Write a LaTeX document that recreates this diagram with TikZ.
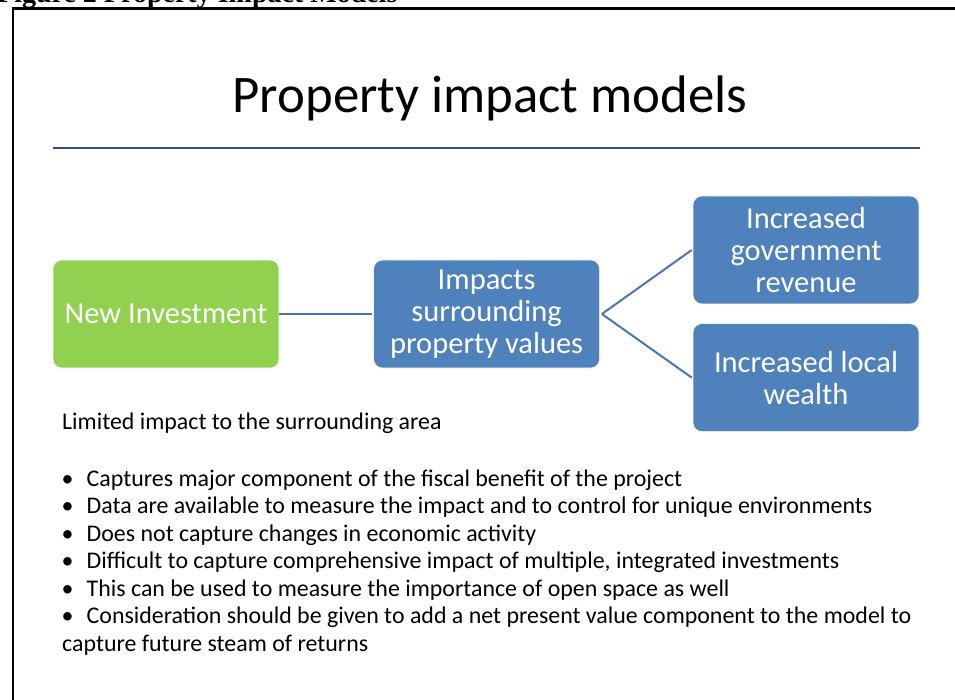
\documentclass[tikz,border=0pt]{standalone}
\usepackage{fontspec}
\setmainfont{Carlito}
\newfontfamily\capfont{Liberation Serif}
\usetikzlibrary{positioning}

\definecolor{boxgreen}{HTML}{92D050}
\definecolor{boxblue}{HTML}{4F81BD}
\definecolor{linkblue}{HTML}{4A76AE}
\definecolor{ruleblue}{HTML}{34507A}

\begin{document}
\begin{tikzpicture} [x=1pt,y=-1pt,
    box/.style={rectangle, rounded corners=9pt, draw=white, line width=0.6pt,
      text=white, align=center, minimum width=226pt, minimum height=108pt,
      inner sep=2pt, font=\fontsize{30.5}{32}\selectfont},
    link/.style={draw=linkblue, line width=2pt},
    item/.style={anchor=base west, inner sep=0pt, font=\fontsize{23.9}{27.5}\selectfont}]

   \useasboundingbox (0,0) rectangle (955,700);

   % caption and frame
   \node[anchor=base west, inner sep=0pt, font=\capfont\bfseries\fontsize{28}{32}\selectfont]
     (caption) at (-3,2.5) {Figure 2 Property Impact Models};
   \draw[line width=2.2pt] (13,720) -- (13,8.5) -- (960,8.5);

   % title
   \node[anchor=base, inner sep=0pt, font=\fontsize{52.8}{60}\selectfont]
     (title) at (490,113) {Property impact models};
   \draw[draw=ruleblue, line width=2.8pt] (53,148) -- (920,148);

   % boxes
   \node[box, fill=boxgreen] (invest) at (166,314) {New Investment};
   \node[box, fill=boxblue] (impact) [right=94pt of invest] {Impacts\\surrounding\\property values};
   \node[box, fill=boxblue] (revenue) at (806,250) {Increased\\government\\revenue};
   \node[box, fill=boxblue] (wealth) [below=19pt of revenue] {Increased local\\wealth};

   \path[link]
    (invest.east) edge ([xshift=-1pt]impact.west)
    ([xshift=2pt]impact.west -| impact.east) edge ([xshift=-1pt]revenue.west)
    ([xshift=2pt]impact.west -| impact.east) edge ([xshift=-1pt]wealth.west);

   % notes
   \node[item] (limited) at (62,429) {Limited impact to the surrounding area};
   \node[item] (b1) at (61.5,486) {\makebox[25pt][l]{•}Captures major component of the fiscal benefit of the project};
   \node[item] (b2) at (61.5,513.5) {\makebox[25pt][l]{•}Data are available to measure the impact and to control for unique environments};
   \node[item] (b3) at (61.5,541) {\makebox[25pt][l]{•}Does not capture changes in economic activity};
   \node[item] (b4) at (61.5,568.5) {\makebox[25pt][l]{•}Difficult to capture comprehensive impact of multiple, integrated investments};
   \node[item] (b5) at (61.5,596) {\makebox[25pt][l]{•}This can be used to measure the importance of open space as well};
   \node[item] (b6) at (61.5,623.5) {\makebox[25pt][l]{•}Consideration should be given to add a net present value component to the model to};
   \node[item] (b6b) at (62,651) {capture future steam of returns};

\end{tikzpicture}
\end{document}
